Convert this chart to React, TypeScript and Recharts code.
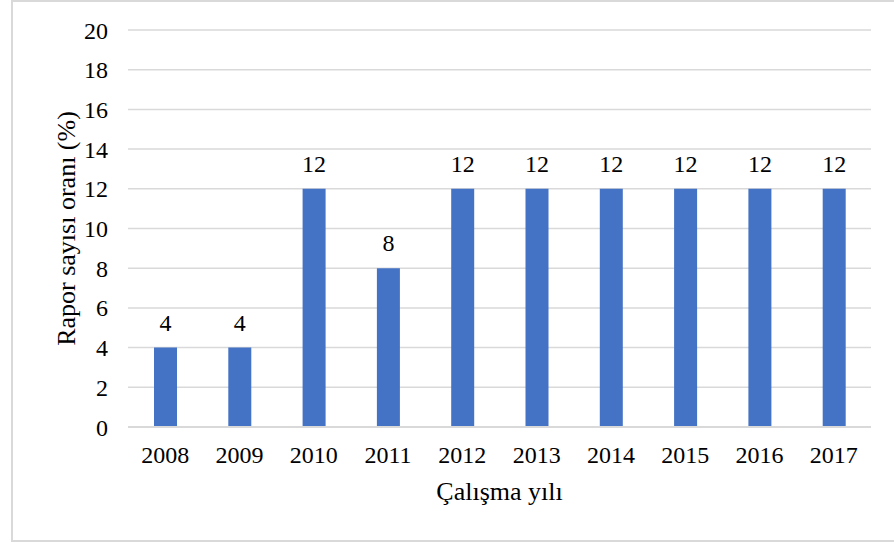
import React from 'react';
import { BarChart, Bar, XAxis, YAxis, CartesianGrid, LabelList, Label } from 'recharts';

const years = ['2008', '2009', '2010', '2011', '2012', '2013', '2014', '2015', '2016', '2017'];
const rates = [4, 4, 12, 8, 12, 12, 12, 12, 12, 12];
const yTicks = [0, 2, 4, 6, 8, 10, 12, 14, 16, 18, 20];
const xTitle = 'Çalışma yılı';
const yTitle = 'Rapor sayısı oranı (%)';

const data = years.map((y, i) => ({ year: y, value: rates[i] }));

const FONT = 'Liberation Serif, serif';
const tickStyle = { fontFamily: FONT, fontSize: 24, fill: '#000' };

const YTitle = (props: any) => {
  const vb = props.viewBox || {};
  const cx = 75;
  const cy = vb.y + vb.height / 2;
  return (
    <text
      x={cx}
      y={cy}
      transform={`rotate(-90, ${cx}, ${cy})`}
      textAnchor="middle"
      style={{ fontFamily: FONT, fontSize: 26, fill: '#000' }}
    >
      {yTitle}
    </text>
  );
};

export default function App() {
  return (
    <div style={{ position: 'absolute', left: 0, top: 0, width: 894, height: 543, overflow: 'hidden', background: '#fff', fontFamily: FONT }}>
      <div
        style={{
          position: 'absolute',
          left: 11,
          top: 0,
          width: 900,
          height: 542,
          boxSizing: 'border-box',
          border: '2px solid #d9d9d9',
        }}
      />
      <div style={{ position: 'absolute', left: 0, top: 0 }}>
        <BarChart width={894} height={543} data={data} margin={{ top: 30, right: 23, bottom: 0, left: 0 }} style={{ fontFamily: FONT }}>
          <CartesianGrid vertical={false} stroke="#d9d9d9" strokeWidth={1.5} />
          <XAxis
            dataKey="year"
            height={116}
            tickLine={false}
            tickSize={0}
            tickMargin={19}
            axisLine={{ stroke: '#d9d9d9', strokeWidth: 2 }}
            tick={{ ...tickStyle, style: tickStyle }}
            interval={0}
          >
            <Label value={xTitle} position="insideBottom" offset={43} fontFamily={FONT} fontSize={26} fill="#000" style={{ fontFamily: FONT, fontSize: 26, fill: '#000' }} />
          </XAxis>
          <YAxis
            width={128}
            domain={[0, 20]}
            ticks={yTicks}
            interval={0}
            axisLine={false}
            tickLine={false}
            tickSize={0}
            tickMargin={20}
            tick={{ ...tickStyle, style: tickStyle }}
          >
            <Label content={<YTitle />} />
          </YAxis>
          <Bar dataKey="value" fill="#4472C4" barSize={23} isAnimationActive={false}>
            <LabelList dataKey="value" position="top" offset={17} fontFamily={FONT} fontSize={24} fill="#000" style={tickStyle} />
          </Bar>
        </BarChart>
      </div>
    </div>
  );
}
